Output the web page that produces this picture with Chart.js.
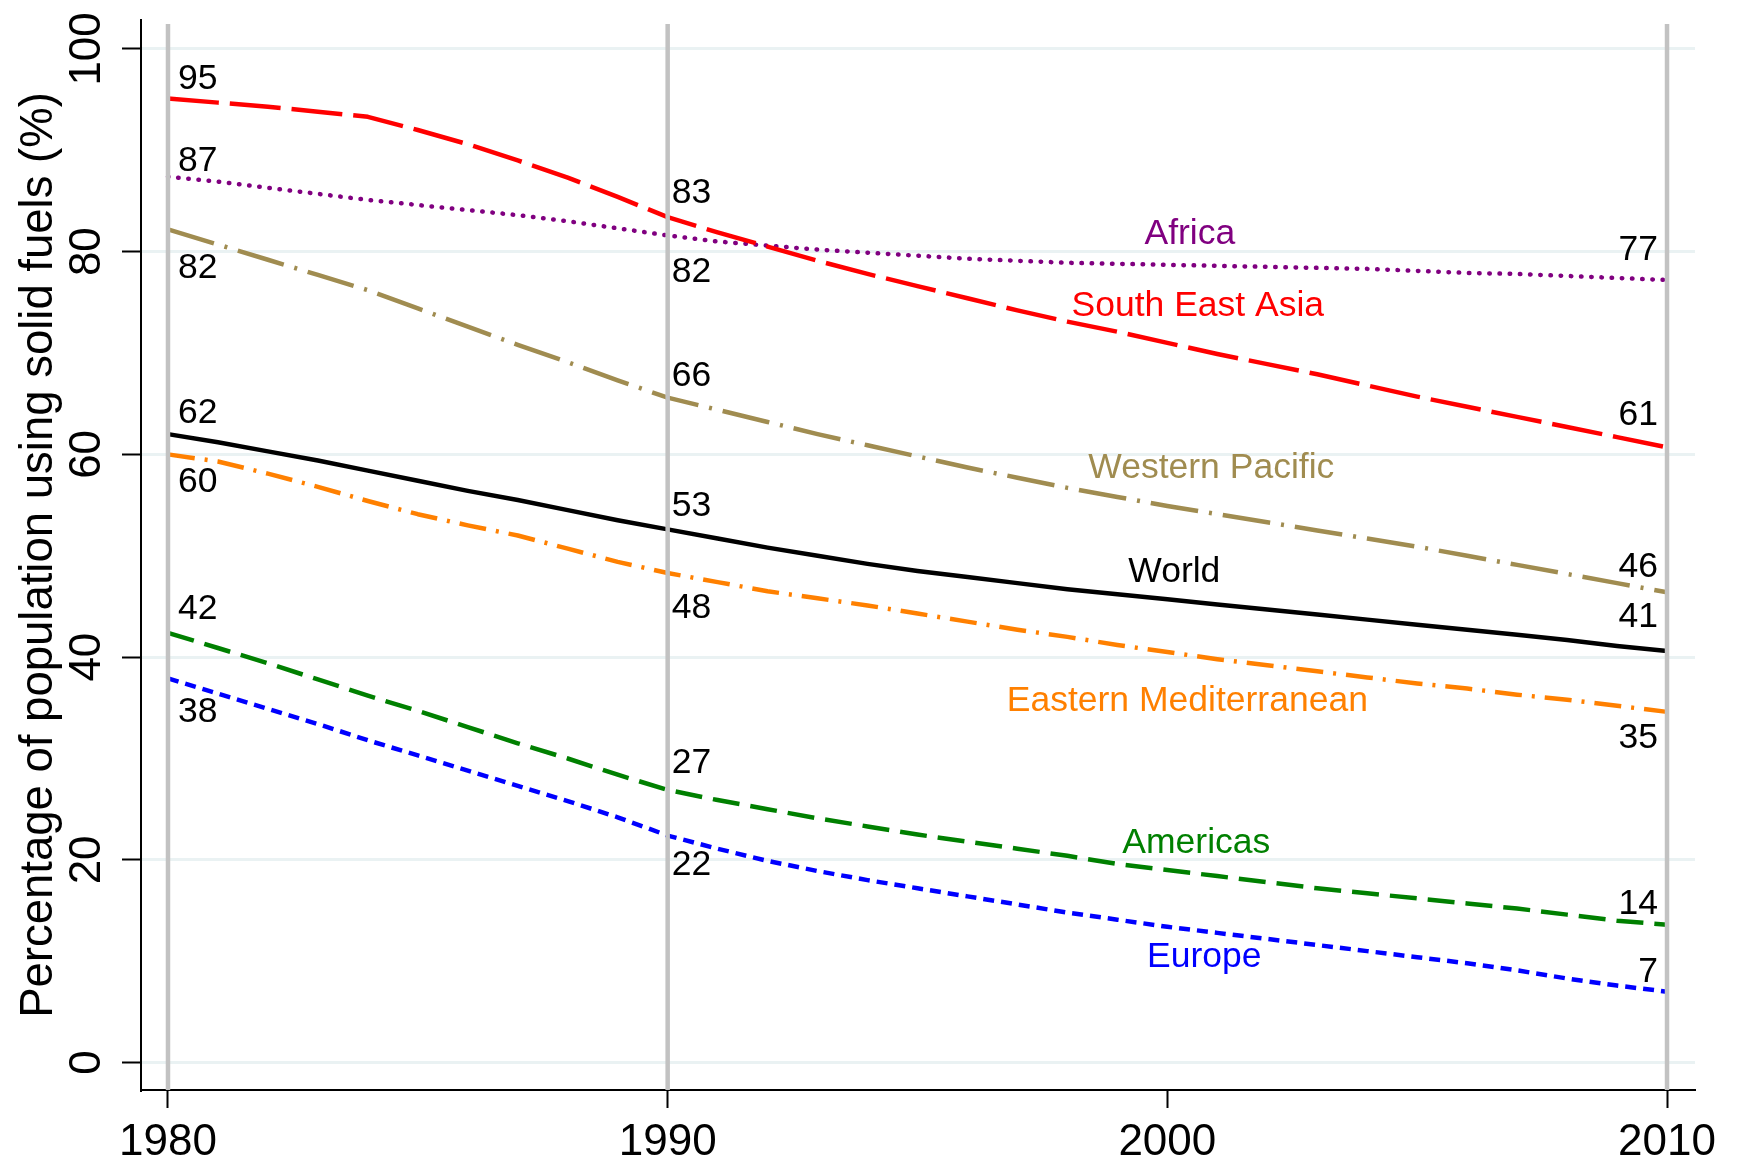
<!DOCTYPE html>
<html>
<head>
<meta charset="utf-8">
<script src="https://cdn.jsdelivr.net/npm/chart.js@4"></script>
<style>
  html, body { margin: 0; padding: 0; background: #fff; }
</style>
</head>
<body>
<canvas id="chart" width="1741" height="1166"></canvas>
<script>
// Solid fuel use by WHO region, 1980-2010
var years = [1980, 1981, 1982, 1983, 1984, 1985, 1986, 1987, 1988, 1989, 1990,
             1991, 1992, 1993, 1994, 1995, 1996, 1997, 1998, 1999, 2000,
             2001, 2002, 2003, 2004, 2005, 2006, 2007, 2008, 2009, 2010];

var southEastAsia = [95.1, 94.7, 94.3, 93.8, 93.3, 92.0, 90.6, 89.0, 87.3, 85.4, 83.4,
                     81.9, 80.5, 79.1, 77.8, 76.6, 75.4, 74.2, 73.1, 72.1, 71.0,
                     69.9, 68.9, 67.9, 66.8, 65.7, 64.7, 63.7, 62.7, 61.7, 60.7];
var africa = [87.4, 86.9, 86.3, 85.7, 85.1, 84.6, 84.1, 83.6, 83.0, 82.3, 81.6,
              81.0, 80.6, 80.2, 79.9, 79.6, 79.3, 79.1, 78.9, 78.8, 78.7,
              78.6, 78.5, 78.4, 78.3, 78.1, 77.9, 77.8, 77.6, 77.4, 77.2];
var westernPacific = [82.2, 80.7, 79.2, 77.7, 76.2, 74.4, 72.6, 70.8, 69.1, 67.3, 65.6,
                      64.4, 63.2, 62.0, 60.9, 59.8, 58.7, 57.7, 56.7, 55.8, 54.9,
                      54.1, 53.3, 52.5, 51.7, 50.9, 50.0, 49.1, 48.2, 47.3, 46.4];
var world = [62.0, 61.2, 60.3, 59.4, 58.4, 57.4, 56.4, 55.5, 54.5, 53.5, 52.6,
             51.7, 50.8, 50.0, 49.2, 48.5, 47.9, 47.3, 46.7, 46.2, 45.7,
             45.2, 44.7, 44.2, 43.7, 43.2, 42.7, 42.2, 41.7, 41.1, 40.6];
var easternMed = [60.0, 59.3, 58.1, 56.8, 55.4, 54.1, 53.0, 52.0, 50.7, 49.4, 48.3,
                  47.4, 46.5, 45.8, 45.1, 44.3, 43.5, 42.7, 42.0, 41.2, 40.5,
                  39.8, 39.2, 38.6, 38.0, 37.4, 36.9, 36.3, 35.8, 35.2, 34.6];
var americas = [42.4, 40.9, 39.4, 37.8, 36.2, 34.7, 33.1, 31.5, 30.0, 28.4, 26.9,
                25.9, 25.0, 24.1, 23.3, 22.5, 21.8, 21.1, 20.4, 19.6, 19.0,
                18.4, 17.8, 17.2, 16.7, 16.2, 15.7, 15.2, 14.6, 14.0, 13.6];
var europe = [37.9, 36.4, 34.9, 33.4, 31.8, 30.3, 28.8, 27.3, 25.8, 24.2, 22.4,
              21.1, 19.9, 18.9, 18.0, 17.2, 16.4, 15.6, 14.8, 14.1, 13.4,
              12.8, 12.2, 11.6, 11.0, 10.4, 9.8, 9.1, 8.3, 7.6, 7.0];

var xTicks = [1980, 1990, 2000, 2010];
var yTicks = [0, 20, 40, 60, 80, 100];
var refYears = [1980, 1990, 2010];     // grey vertical lines
var labelYears = [1980, 1990, 2010];   // years that get a value label

var FONT = '"Liberation Sans", Arial, sans-serif';

// style + label placement for each line
var series = [
  { name: 'South East Asia', data: southEastAsia, color: '#FF0000', dash: [51, 11], cap: 'butt',
    dy: [-19, -24, -32], nameAt: [2000.61, 74.6] },
  { name: 'Africa', data: africa, color: '#800080', dash: [0.5, 9.7], cap: 'round',
    dy: [-15, 37, -30], nameAt: [2000.45, 81.7] },
  { name: 'Western Pacific', data: westernPacific, color: '#A08C50', dash: [48, 11, 3, 11], cap: 'butt',
    dy: [39, -21, -25], nameAt: [2000.88, 58.6] },
  { name: 'World', data: world, color: '#000000', dash: [], cap: 'butt',
    dy: [-21, -23, -34], nameAt: [2000.14, 48.4] },
  { name: 'Eastern Mediterranean', data: easternMed, color: '#FF8000', dash: [27, 10, 3, 10], cap: 'butt',
    dy: [28, 35, 26], nameAt: [2000.4, 35.7] },
  { name: 'Americas', data: americas, color: '#008000', dash: [27, 11], cap: 'butt',
    dy: [-24, -27, -21], nameAt: [2000.58, 21.6] },
  { name: 'Europe', data: europe, color: '#0000FF', dash: [11, 7], cap: 'butt',
    dy: [34, 30, -19], nameAt: [2000.74, 10.4] }
];
var labelShift = [10, 4, -9];

var datasets = series.map(function (s) {
  return {
    label: s.name,
    data: years.map(function (yr, i) { return { x: yr, y: s.data[i] }; }),
    borderColor: s.color,
    borderWidth: 4.5,
    borderDash: s.dash,
    borderCapStyle: s.cap,
    borderJoinStyle: 'round',
    pointRadius: 0,
    tension: 0,
    fill: false
  };
});

// grey lines at selected years, drawn through the x scale
var refLines = {
  id: 'refLines',
  afterDatasetsDraw: function (chart) {
    var ctx = chart.ctx, area = chart.chartArea, xs = chart.scales.x;
    ctx.save();
    ctx.strokeStyle = '#C2C2C2';
    ctx.lineWidth = 4.5;
    refYears.forEach(function (yr) {
      var px = xs.getPixelForValue(yr);
      ctx.beginPath();
      ctx.moveTo(px, area.top + 4);
      ctx.lineTo(px, area.bottom);
      ctx.stroke();
    });
    ctx.restore();
  }
};

// value labels and series names
var textLabels = {
  id: 'textLabels',
  afterDraw: function (chart) {
    var ctx = chart.ctx, xs = chart.scales.x, ys = chart.scales.y;
    ctx.save();
    ctx.font = '35.5px ' + FONT;
    ctx.textBaseline = 'middle';
    series.forEach(function (s) {
      labelYears.forEach(function (yr, k) {
        var i = years.indexOf(yr);
        var v = s.data[i];
        ctx.fillStyle = '#000';
        ctx.textAlign = k === 2 ? 'right' : 'left';
        ctx.fillText(String(Math.round(v)), xs.getPixelForValue(yr) + labelShift[k], ys.getPixelForValue(v) + s.dy[k]);
      });
      ctx.fillStyle = s.color;
      ctx.textAlign = 'center';
      ctx.fillText(s.name, xs.getPixelForValue(s.nameAt[0]), ys.getPixelForValue(s.nameAt[1]));
    });
    ctx.restore();
  }
};

var ctx = document.getElementById('chart').getContext('2d');
var chart = new Chart(ctx, {
  type: 'line',
  data: { datasets: datasets },
  options: {
    responsive: false,
    devicePixelRatio: 1,
    animation: false,
    layout: { padding: { top: 20, right: 46, left: 0, bottom: 0 } },
    plugins: { legend: { display: false }, tooltip: { enabled: false } },
    scales: {
      x: {
        type: 'linear',
        min: 1979.46,
        max: 2010.56,
        afterBuildTicks: function (s) { s.ticks = xTicks.map(function (v) { return { value: v }; }); },
        afterFit: function (s) { s.height = 76; s.paddingLeft = 0; s.paddingRight = 0; },
        grid: { drawOnChartArea: false, drawTicks: true, tickLength: 18, tickColor: '#000', tickWidth: 2 },
        border: { display: true, color: '#000', width: 2 },
        ticks: {
          font: { family: FONT, size: 44 }, color: '#000',
          minRotation: 0, maxRotation: 0, autoSkip: false, padding: 8,
          callback: function (v) { return String(v); }
        }
      },
      y: {
        type: 'linear',
        min: -2.7,
        max: 102.85,
        afterBuildTicks: function (s) { s.ticks = yTicks.map(function (v) { return { value: v }; }); },
        afterFit: function (s) { s.width = 141; s.paddingTop = 0; s.paddingBottom = 0; },
        grid: { color: '#EAF2F3', lineWidth: 3, drawTicks: true, tickLength: 19, tickColor: '#000', tickWidth: 2 },
        border: { display: true, color: '#000', width: 2 },
        ticks: {
          font: { family: FONT, size: 44 }, color: '#000',
          minRotation: 90, maxRotation: 90, crossAlign: 'center', autoSkip: false, padding: -3,
          callback: function (v) { return String(v); }
        },
        title: {
          display: true,
          text: 'Percentage of population using solid fuels (%)',
          font: { family: FONT, size: 45.5 }, color: '#000',
          padding: { top: 12, bottom: 0 }
        }
      }
    }
  },
  plugins: [refLines, textLabels]
});
</script>
</body>
</html>
